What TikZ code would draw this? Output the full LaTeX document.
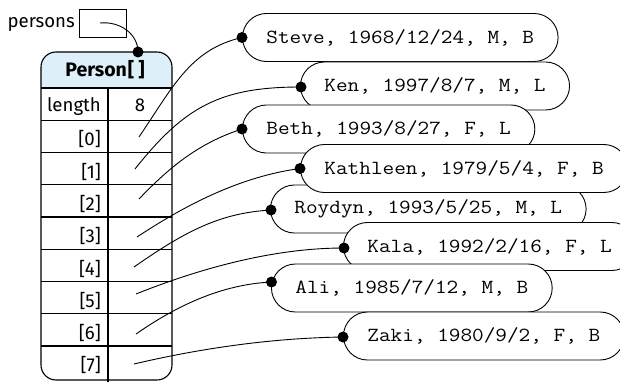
\documentclass[tikz,border=0pt]{standalone}
\usepackage{fontspec}
\usepackage{graphicx}
\setmainfont{Fira Sans}
\usetikzlibrary{calc}
\definecolor{headblue}{RGB}{221,240,250}
% record text: typewriter face, widened slightly
\newcommand\persontext[1]{\scalebox{1.13}[1]{#1}}
\tikzset{
  frame/.style={line width=1.1pt},
  capsule/.style={draw, line width=0.9pt, fill=white, rounded corners=24pt,
    minimum height=48pt, inner xsep=24pt, inner ysep=0pt, anchor=west,
    font=\fontsize{20}{22}\ttfamily},
  dot/.style={circle, fill=black, inner sep=0pt, minimum size=11pt},
  ptr/.style={line width=0.9pt},
  celltext/.style={font=\fontsize{18.6}{21}\selectfont, inner sep=0pt},
  headtext/.style={font=\fontsize{19.5}{21}\selectfont\bfseries, inner sep=0pt},
}
\begin{document}
\begin{tikzpicture}[x=1pt, y=-1pt]
\useasboundingbox (0,0) rectangle (620,382);

% variable holding the reference
\node[celltext, anchor=base east] (varname) at (75,28) {persons};
\node[draw, line width=0.9pt, minimum width=47pt, minimum height=28pt, inner sep=0pt]
  (varbox) at (102.5,23) {};
\coordinate (varsrc) at (100,23);

% array object: header, length row, eight slots
\begin{scope}
  \clip (0,0) rectangle (620,88);
  \fill[headblue, rounded corners=15pt] (41,52) rectangle (172,130);
\end{scope}
\draw[frame, rounded corners=15pt] (41,380) -- (41,52) -- (172,52) -- (172,380) -- cycle;
\foreach \y in {88,120.25,152.5,184.75,217,249.25,281.5,313.75,346}
  \draw[frame] (41,\y) -- (172,\y);
\draw[frame] (108,88) -- (108,382);
\node[headtext, anchor=base] (head) at (105,77) {Person\kern1pt[\kern4pt]};
\node[celltext, anchor=base east] (lenlabel) at (101,112) {length};
\node[celltext, anchor=base] (lenval) at (140,112) {8};
\foreach \i in {0,...,7}
  \node[celltext, anchor=base east] (idx\i) at (101,{146+32.25*\i}) {[\i]};

% reference sources inside the slots
\coordinate (s0) at (139,137);
\coordinate (s1) at (135,169);
\coordinate (s2) at (139,199);
\coordinate (s3) at (137,237);
\coordinate (s4) at (134,267);
\coordinate (s5) at (136,294);
\coordinate (s6) at (136,334);
\coordinate (s7) at (134,364);

% person objects, later ones painted over earlier ones
\node[capsule] (steve)    at (242,37.5)  {\persontext{Steve, 1968/12/24, M, B}};
\node[capsule] (ken)      at (300,86)    {\persontext{Ken, 1997/8/7, M, L}};
\node[capsule] (beth)     at (242,129)   {\persontext{Beth, 1993/8/27, F, L}};
\node[capsule] (roydyn)   at (270,209)   {\persontext{Roydyn, 1993/5/25, M, L}};
\node[capsule] (kathleen) at (300,168.5) {\persontext{Kathleen, 1979/5/4, F, B}};
\node[capsule] (kala)     at (343,246.5) {\persontext{Kala, 1992/2/16, F, L}};
\node[capsule] (ali)      at (271,288)   {\persontext{Ali, 1985/7/12, M, B}};
\node[capsule] (zaki)     at (343,336)   {\persontext{Zaki, 1980/9/2, F, B}};

% reference dots
\node[dot] (darr)      at (138,52) {};
\node[dot] (dsteve)    at (steve.west) {};
\node[dot] (dken)      at ($(ken.west)+(1,1)$) {};
\node[dot] (dbeth)     at (beth.west) {};
\node[dot] (dkathleen) at (kathleen.west) {};
\node[dot] (droydyn)   at ($(roydyn.west)+(1,1)$) {};
\node[dot] (dkala)     at ($(kala.west)+(1,1.5)$) {};
\node[dot] (dali)      at ($(ali.west)+(0.5,-6)$) {};
\node[dot] (dzaki)     at ($(zaki.west)+(0,1)$) {};

% pointers
\draw[ptr] (varsrc) .. controls +(20,-2) and +(0,-18) .. (darr.center);
\draw[ptr] (s0) .. controls +(34,-50) and +(-52,12) .. (dsteve.center);
\draw[ptr] (s1) .. controls +(50,-63) and +(-80,0) .. (dken.center);
\draw[ptr] (s2) .. controls +(31,-32.4) and +(-43,14) .. (dbeth.center);
\draw[ptr] (s3) .. controls +(50,-33) and +(-59,8) .. (dkathleen.center);
\draw[ptr] (s4) .. controls +(53,-37) and +(-50,3) .. (droydyn.center);
\draw[ptr] (s5) .. controls +(65,-26) and +(-70,0) .. (dkala.center);
\draw[ptr] (s6) .. controls +(41,-28.5) and +(-50,2.5) .. (dali.center);
\draw[ptr] (s7) .. controls +(68,-16) and +(-70,1) .. (dzaki.center);
\end{tikzpicture}
\end{document}
